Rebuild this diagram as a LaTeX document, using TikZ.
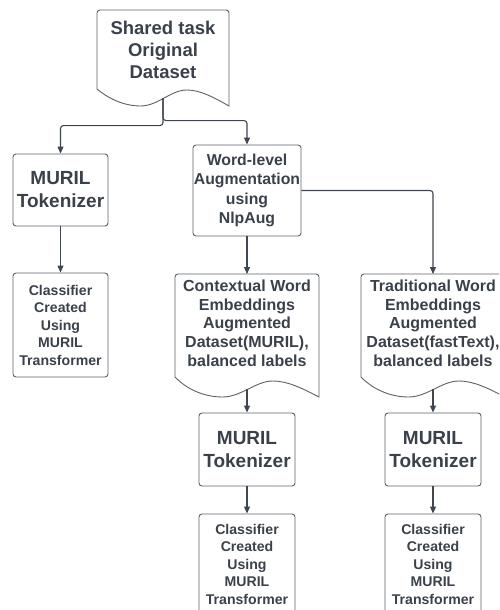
\documentclass[tikz,border=0pt]{standalone}
\usepackage{fontspec}
\setmainfont{Liberation Sans}
\usetikzlibrary{arrows.meta,calc}
\definecolor{txt}{HTML}{3A414A}
\definecolor{edge}{HTML}{5C6168}
\definecolor{conn}{HTML}{40464F}
\newcommand\docshape[5]{%
  \draw[docline] ({#1},{#4-#5}) [rounded corners=3pt] -- ({#1},{#2}) -- ({#3},{#2}) [sharp corners] -- ({#3},{#4})
    .. controls ({#1+0.88*(#3-#1)},{#4-9}) and ({#1+0.78*(#3-#1)},{#4-16}) .. ({#1+0.68*(#3-#1)},{#4-16})
    .. controls ({#1+0.56*(#3-#1)},{#4-16}) and ({#1+0.46*(#3-#1)},{#4}) .. ({#1+0.33*(#3-#1)},{#4})
    .. controls ({#1+0.20*(#3-#1)},{#4}) and ({#1+0.08*(#3-#1)},{#4-8}) .. ({#1},{#4-#5}) -- cycle;}
\tikzset{
  docline/.style={draw=edge,line width=0.9pt},
  box/.style={draw=edge,line width=0.9pt,rounded corners=3pt,align=center,text=txt,inner sep=0pt},
  lbl/.style={align=center,text=txt,inner sep=0pt},
  fbig/.style={font=\fontsize{18.5}{22}\selectfont\bfseries},
  ftok/.style={font=\fontsize{19}{23}\selectfont\bfseries},
  fmid/.style={font=\fontsize{15.8}{19.3}\selectfont\bfseries},
  fsmall/.style={font=\fontsize{14.1}{17.5}\selectfont\bfseries},
  fdoc/.style={font=\fontsize{16}{18.7}\selectfont\bfseries},
  arr/.style={draw=conn,line width=1.1pt,-{Triangle[length=7pt,width=6pt]},rounded corners=3pt},
}
\begin{document}
\begin{tikzpicture}[x=1pt,y=-1pt]
\useasboundingbox (0,0) rectangle (499,610);
\clip (0,0) rectangle (499,610);
% top document
\docshape{97}{10}{229}{106}{17}
\node[lbl,fbig] (doc1) at (163,50) {Shared task\\Original\\Dataset};
\coordinate (d1out) at (163,98);
% left column
\node[box,ftok,minimum width=95pt,minimum height=72pt] (tok1) at (60.5,190) {MURIL\\Tokenizer};
\node[box,fsmall,minimum width=95pt,minimum height=104pt] (cls1) at (60.5,325) {Classifier\\Created\\Using\\MURIL\\Transformer};
% word-level
\node[box,fmid,minimum width=108pt,minimum height=91pt] (wl) at (247,190.5) {Word-level\\Augmentation\\using\\NlpAug};
% middle document
\docshape{175}{274}{319}{397}{20}
\node[lbl,fdoc] (doc2) at (247,323) {Contextual Word\\Embeddings\\Augmented\\Dataset(MURIL),\\balanced labels};
\coordinate (d2top) at (247,274);
\coordinate (d2out) at (247,389);
% right document
\docshape{361}{274}{505}{397}{20}
\node[lbl,fdoc] (doc3) at (433,323) {Traditional Word\\Embeddings\\Augmented\\Dataset(fastText),\\balanced labels};
\coordinate (d3top) at (433,274);
\coordinate (d3out) at (433,389);
% tokenizers and classifiers
\node[box,ftok,minimum width=96pt,minimum height=73pt] (tok2) at (247,449.5) {MURIL\\Tokenizer};
\node[box,ftok,minimum width=96pt,minimum height=73pt] (tok3) at (433,449.5) {MURIL\\Tokenizer};
\node[box,fsmall,minimum width=96pt,minimum height=100pt] (cls2) at (247,564) {Classifier\\Created\\Using\\MURIL\\Transformer};
\node[box,fsmall,minimum width=96pt,minimum height=100pt] (cls3) at (433,564) {Classifier\\Created\\Using\\MURIL\\Transformer};
% connectors
\draw[arr] (d1out) |- ($(tok1.north)+(0,-28)$) -- (tok1.north);
\draw[arr] (d1out) |- ($(wl.north)+(0,-24)$) -- (wl.north);
\draw[arr] (tok1.south) -- (cls1.north);
\draw[arr] (wl.south) -- (d2top);
\draw[arr] (wl.east) -| (d3top);
\draw[arr] (d2out) -- (tok2.north);
\draw[arr] (d3out) -- (tok3.north);
\draw[arr] (tok2.south) -- (cls2.north);
\draw[arr] (tok3.south) -- (cls3.north);
\end{tikzpicture}
\end{document}
